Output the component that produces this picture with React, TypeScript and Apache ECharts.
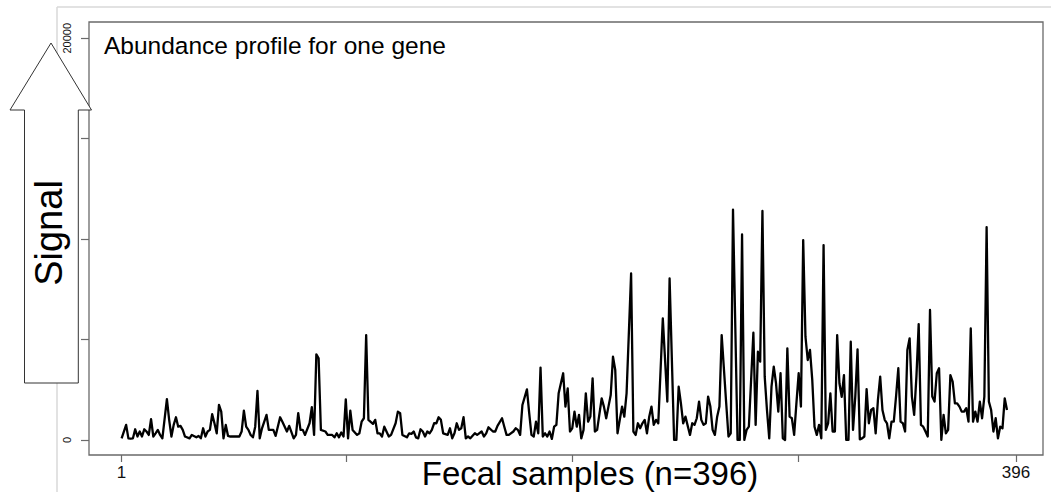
import { useEffect, useRef } from "react";
import * as echarts from "echarts";

// Sample number (x) and abundance signal (y) for one gene across fecal samples
const samples = [
  1, 3, 4, 5, 6, 7, 8, 9, 10, 11,
  12, 13, 14, 15, 16, 17, 18, 19, 21, 22,
  23, 24, 25, 26, 27, 28, 29, 31, 32, 34,
  35, 36, 37, 38, 39, 40, 41, 42, 43, 44,
  45, 46, 47, 48, 49, 50, 51, 53, 54, 55,
  56, 57, 58, 59, 60, 61, 62, 63, 65, 66,
  68, 69, 71, 72, 74, 75, 77, 78, 79, 80,
  81, 82, 84, 85, 86, 87, 88, 89, 91, 92,
  93, 94, 95, 96, 97, 98, 99, 100, 101, 102,
  103, 105, 106, 107, 108, 109, 110, 112, 113, 114,
  115, 116, 117, 119, 120, 122, 123, 124, 125, 127,
  128, 129, 130, 131, 132, 133, 134, 135, 136, 137,
  138, 139, 140, 141, 142, 143, 145, 146, 147, 148,
  149, 150, 151, 152, 153, 154, 155, 157, 158, 160,
  161, 162, 163, 165, 166, 167, 169, 170, 171, 172,
  174, 175, 176, 177, 178, 180, 181, 182, 183, 184,
  185, 186, 187, 188, 189, 190, 191, 192, 193, 194,
  196, 197, 198, 199, 200, 201, 202, 203, 204, 205,
  206, 207, 208, 209, 210, 211, 213, 214, 215, 216,
  217, 218, 219, 220, 221, 222, 223, 224, 226, 227,
  228, 229, 230, 231, 232, 233, 234, 235, 236, 237,
  238, 240, 242, 243, 245, 246, 247, 248, 249, 250,
  252, 253, 254, 255, 256, 257, 258, 259, 260, 261,
  262, 263, 264, 265, 266, 268, 269, 270, 271, 273,
  274, 275, 276, 277, 278, 280, 281, 282, 283, 284,
  285, 286, 287, 288, 289, 290, 291, 292, 293, 294,
  295, 296, 297, 298, 299, 300, 301, 302, 303, 304,
  305, 306, 307, 308, 309, 310, 311, 312, 313, 314,
  315, 316, 317, 318, 319, 320, 321, 322, 323, 324,
  325, 326, 327, 328, 329, 330, 331, 332, 333, 334,
  335, 336, 337, 338, 339, 340, 341, 342, 343, 344,
  345, 346, 347, 348, 349, 350, 351, 352, 353, 354,
  355, 356, 357, 358, 359, 360, 361, 362, 363, 364,
  365, 366, 367, 368, 369, 370, 371, 372, 373, 374,
  375, 376, 377, 378, 379, 380, 381, 382, 383, 384,
  385, 386, 387, 388, 389, 390, 391, 392,
];

const signal = [
  80, 750, 80, 60, 80, 530, 170, 420, 170, 530,
  420, 250, 1030, 170, 330, 500, 250, 80, 2030, 1000,
  170, 750, 1130, 660, 700, 500, 170, 80, 250, 130,
  200, 80, 580, 170, 420, 500, 1280, 830, 330, 1750,
  1410, 80, 750, 200, 170, 170, 170, 170, 420, 1460,
  660, 500, 250, 130, 660, 2440, 80, 580, 1250, 500,
  500, 200, 1130, 910, 420, 700, 80, 250, 1330, 500,
  500, 250, 830, 1630, 250, 4260, 4060, 500, 420, 250,
  250, 250, 130, 330, 130, 370, 170, 2020, 80, 1460,
  500, 250, 330, 910, 1080, 5220, 1000, 800, 1000, 330,
  330, 170, 660, 170, 250, 830, 1410, 1330, 250, 130,
  330, 300, 420, 130, 80, 530, 420, 170, 420, 330,
  500, 830, 830, 1130, 1000, 330, 250, 580, 80, 330,
  830, 500, 580, 1130, 80, 170, 80, 330, 250, 420,
  170, 330, 630, 420, 420, 700, 1080, 660, 250, 250,
  420, 580, 500, 250, 1740, 2520, 1330, 250, 170, 910,
  330, 3600, 170, 330, 170, 420, 50, 660, 750, 2320,
  3320, 1660, 2570, 420, 580, 1410, 660, 1250, 80, 500,
  2320, 910, 1160, 3070, 420, 500, 2070, 1660, 1080, 1660,
  2240, 4150, 3480, 330, 1000, 1660, 1160, 2320, 8290, 420,
  250, 830, 580, 830, 1000, 330, 1160, 1660, 750, 1000,
  830, 6050, 1910, 8040, 0, 0, 2650, 1820, 830, 1160,
  250, 830, 750, 1080, 1910, 1000, 750, 830, 2160, 1660,
  500, 250, 1160, 1660, 5220, 1820, 170, 330, 11470, 0,
  0, 10230, 0, 500, 660, 5340, 750, 4390, 3900, 11400,
  3150, 1490, 80, 2650, 3650, 2820, 1410, 3320, 80, 0,
  4560, 1160, 1080, 250, 1820, 3320, 1660, 9950, 5140, 3980,
  4480, 2990, 660, 250, 750, 80, 9700, 500, 830, 2320,
  420, 420, 5220, 2820, 2150, 3230, 0, 0, 4890, 500,
  2160, 4510, 30, 80, 170, 2530, 830, 1490, 1580, 330,
  1990, 3150, 1490, 1000, 830, 80, 910, 910, 2160, 3570,
  910, 830, 420, 4480, 5060, 2160, 1250, 3150, 5770, 750,
  660, 420, 170, 6470, 2160, 1910, 3320, 3570, 0, 1250,
  330, 500, 3230, 2900, 1820, 1820, 1660, 1410, 1410, 1580,
  910, 5550, 910, 1410, 910, 1910, 1080, 2160, 10600, 1910,
  1490, 420, 1080, 80, 660, 580, 2070, 1490,
];

// Axis ticks: all are marked, only the extremes are labelled
const yTicks = [0, 5000, 10000, 15000, 20000];
const yTickLabels = [0, 20000];
const xTicks = [1, 100, 200, 300, 396];
const xTickLabels = [1, 396];

const FONT = "'Liberation Sans', Arial, Helvetica, sans-serif";

export default function App() {
  const ref = useRef<HTMLDivElement>(null);

  useEffect(() => {
    if (!ref.current) return;
    const chart = echarts.init(ref.current, null, { renderer: "svg" });

    const lineData = samples.map((s, i) => [s, signal[i]]);

    chart.setOption({
      animation: false,
      backgroundColor: "#ffffff",
      grid: {
        left: 89,
        right: 8,
        top: 22,
        bottom: 37,
        show: true,
        borderColor: "#6a6a6a",
        borderWidth: 1.3,
        backgroundColor: "transparent",
      },
      xAxis: {
        type: "value",
        min: -13.4,
        max: 407.9,
        axisLine: { show: false, onZero: false },
        splitLine: { show: false },
        axisTick: {
          show: true,
          length: 7,
          customValues: xTicks,
          lineStyle: { color: "#6a6a6a", width: 1.2 },
        },
        axisLabel: {
          show: true,
          customValues: xTickLabels,
          margin: 9,
          fontSize: 17,
          fontFamily: FONT,
          color: "#111",
          formatter: (v: number) => String(v),
        },
      },
      yAxis: {
        type: "value",
        min: -750,
        max: 20810,
        axisLine: { show: false, onZero: false },
        splitLine: { show: false },
        axisTick: {
          show: true,
          length: 8,
          customValues: yTicks,
          lineStyle: { color: "#6a6a6a", width: 1.2 },
        },
        axisLabel: {
          show: true,
          customValues: yTickLabels,
          rotate: 90,
          margin: 17,
          fontSize: 11,
          fontFamily: FONT,
          color: "#111",
          formatter: (v: number) => String(v),
        },
      },
      series: [
        {
          type: "line",
          data: lineData,
          showSymbol: false,
          symbol: "none",
          smooth: false,
          lineStyle: { color: "#000", width: 2.3, join: "round" },
          z: 5,
        },
      ],
      graphic: [
        {
          type: "line",
          z: 0,
          shape: { x1: 57, y1: 7, x2: 57, y2: 492 },
          style: { stroke: "#d9d9d9", lineWidth: 1.5 },
        },
        {
          type: "line",
          z: 0,
          shape: { x1: 57, y1: 7, x2: 1051, y2: 7 },
          style: { stroke: "#d9d9d9", lineWidth: 1.5 },
        },
        {
          type: "polygon",
          z: 20,
          shape: {
            points: [
              [51, 43],
              [91.5, 110],
              [78.3, 110],
              [78.3, 383],
              [24.5, 383],
              [24.5, 110],
              [10, 110],
            ],
          },
          style: { fill: "#ffffff", stroke: "#333", lineWidth: 1 },
        },
        {
          type: "text",
          z: 21,
          x: 49,
          y: 233,
          rotation: Math.PI / 2,
          style: {
            text: "Signal",
            fontSize: 38,
            fontFamily: FONT,
            fill: "#000",
            align: "center",
            verticalAlign: "middle",
          },
        },
        {
          type: "text",
          z: 21,
          x: 104,
          y: 45,
          style: {
            text: "Abundance profile for one gene",
            fontSize: 24.5,
            fontFamily: FONT,
            fill: "#000",
            align: "left",
            verticalAlign: "middle",
          },
        },
        {
          type: "text",
          z: 21,
          x: 590,
          y: 473,
          style: {
            text: "Fecal samples (n=396)",
            fontSize: 33,
            fontFamily: FONT,
            fill: "#000",
            align: "center",
            verticalAlign: "middle",
          },
        },
      ],
    });

    return () => chart.dispose();
  }, []);

  return (
    <div
      ref={ref}
      style={{ position: "fixed", left: 0, top: 0, width: 1051, height: 492 }}
    />
  );
}
